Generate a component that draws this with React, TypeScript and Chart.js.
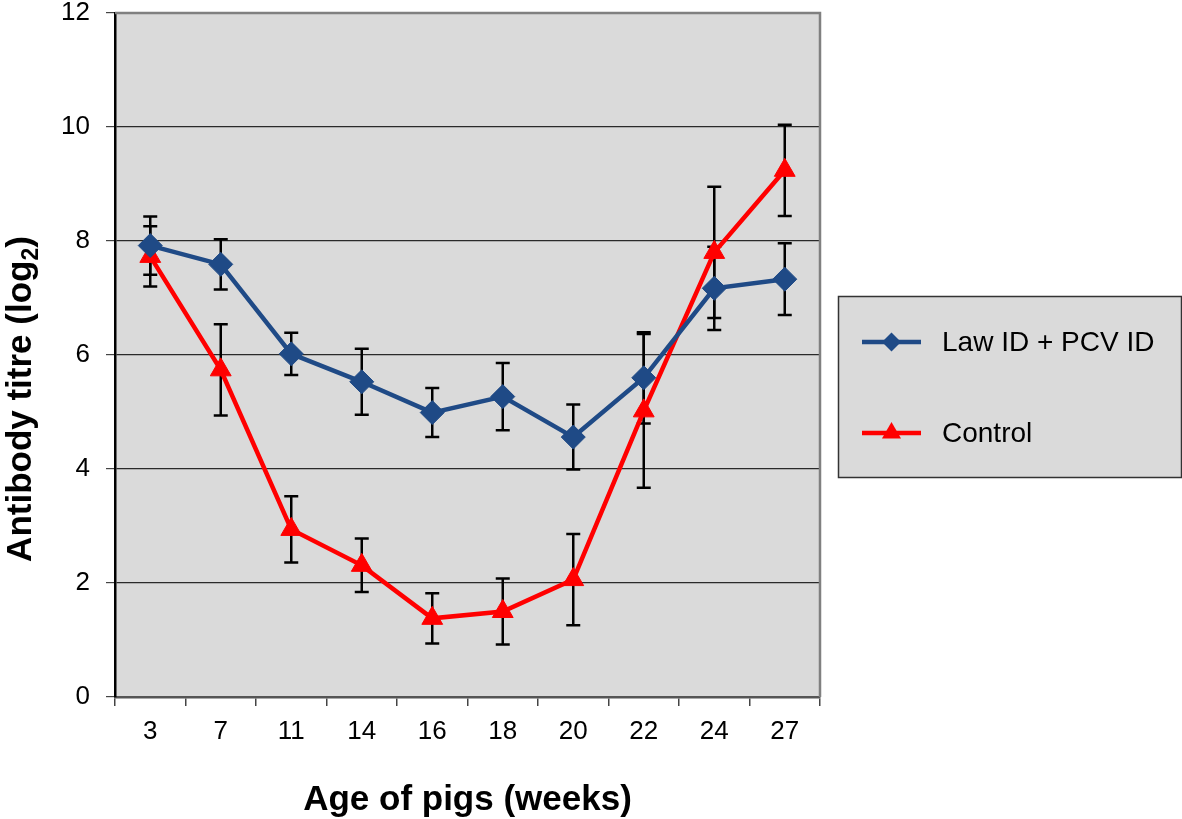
import React, { useEffect, useRef } from 'react';
import { Chart, registerables } from 'chart.js';

Chart.register(...registerables);

const weeks = ['3', '7', '11', '14', '16', '18', '20', '22', '24', '27'];
const lawValues = [7.92, 7.59, 6.02, 5.53, 4.99, 5.27, 4.56, 5.6, 7.17, 7.33];
const lawErrors = [0.51, 0.44, 0.37, 0.58, 0.43, 0.59, 0.57, 0.8, 0.73, 0.63];
const controlValues = [7.73, 5.74, 2.94, 2.31, 1.38, 1.5, 2.06, 5.02, 7.8, 9.24];
const controlErrors = [0.53, 0.8, 0.58, 0.47, 0.44, 0.58, 0.8, 1.35, 1.15, 0.8];
const yTicks = [0, 2, 4, 6, 8, 10, 12];

const lawLabel = 'Law ID + PCV ID';
const controlLabel = 'Control';
const xTitle = 'Age of pigs (weeks)';
const yTitleMain = 'Antibody titre (log';
const yTitleSub = '2';
const yTitleEnd = ')';

const BLUE = '#1F4A86';
const RED = '#FF0000';
const FONT = '"Liberation Sans", Arial, Helvetica, sans-serif';
const PLOT_BG = '#dadada';

const backgroundPlugin = {
  id: 'plotBackground',
  beforeDraw(chart: any) {
    const { ctx, chartArea: ca } = chart;
    ctx.save();
    ctx.fillStyle = PLOT_BG;
    ctx.fillRect(ca.left, ca.top, ca.right - ca.left, ca.bottom - ca.top);
    ctx.restore();
  },
};

const errorBarsPlugin = {
  id: 'errorBars',
  beforeDatasetsDraw(chart: any) {
    const { ctx, chartArea: ca } = chart;
    const xs = chart.scales.x;
    const ys = chart.scales.y;
    ctx.save();
    ctx.strokeStyle = '#808080';
    ctx.lineWidth = 2.5;
    ctx.beginPath();
    ctx.moveTo(ca.left, ca.top);
    ctx.lineTo(ca.right, ca.top);
    ctx.lineTo(ca.right, ca.bottom);
    ctx.stroke();

    ctx.strokeStyle = '#000';
    ctx.lineWidth = 2.5;
    chart.data.datasets.forEach((ds: any) => {
      const errs: number[] = ds.errors || [];
      ds.data.forEach((v: number, j: number) => {
        const e = errs[j] || 0;
        const px = xs.getPixelForValue(j);
        const top = ys.getPixelForValue(v + e);
        const bot = ys.getPixelForValue(v - e);
        ctx.beginPath();
        ctx.moveTo(px, top);
        ctx.lineTo(px, bot);
        ctx.moveTo(px - 7, top);
        ctx.lineTo(px + 7, top);
        ctx.moveTo(px - 7, bot);
        ctx.lineTo(px + 7, bot);
        ctx.stroke();
      });
    });
    ctx.restore();
  },
};

const titlesPlugin = {
  id: 'axisTitles',
  afterDraw(chart: any) {
    const { ctx, chartArea: ca } = chart;
    ctx.save();
    ctx.fillStyle = '#000';
    ctx.font = `bold 35px ${FONT}`;
    ctx.textAlign = 'center';
    ctx.textBaseline = 'alphabetic';
    ctx.fillText(xTitle, (ca.left + ca.right) / 2, ca.bottom + 113);

    ctx.translate(31, ca.top + 386);
    ctx.rotate(-Math.PI / 2);
    ctx.textAlign = 'left';
    const mainFont = `bold 35px ${FONT}`;
    const subFont = `bold 23px ${FONT}`;
    ctx.font = mainFont;
    const w1 = ctx.measureText(yTitleMain).width;
    const w3 = ctx.measureText(yTitleEnd).width;
    ctx.font = subFont;
    const w2 = ctx.measureText(yTitleSub).width;
    const total = w1 + w2 + w3;
    let x = -total / 2;
    ctx.font = mainFont;
    ctx.fillText(yTitleMain, x, 0);
    x += w1;
    ctx.font = subFont;
    ctx.fillText(yTitleSub, x, 7);
    x += w2;
    ctx.font = mainFont;
    ctx.fillText(yTitleEnd, x, 0);
    ctx.restore();
  },
};

const legendPlugin = {
  id: 'customLegend',
  afterDraw(chart: any) {
    const { ctx, chartArea: ca, width } = chart;
    const left = ca.right + 18;
    const top = 296;
    const right = width - 1;
    const bottom = 477;
    ctx.save();
    ctx.fillStyle = PLOT_BG;
    ctx.fillRect(left, top, right - left, bottom - top);
    ctx.strokeStyle = '#333';
    ctx.lineWidth = 1.5;
    ctx.strokeRect(left + 0.5, top + 0.5, right - left, bottom - top);

    chart.data.datasets.forEach((ds: any, i: number) => {
      const cy = 342 + i * 91;
      const x0 = left + 24;
      const x1 = left + 83;
      const mx = (x0 + x1) / 2;
      ctx.strokeStyle = ds.borderColor;
      ctx.lineWidth = 4.5;
      ctx.beginPath();
      ctx.moveTo(x0, cy);
      ctx.lineTo(x1, cy);
      ctx.stroke();
      ctx.fillStyle = ds.backgroundColor;
      ctx.beginPath();
      if (ds.pointStyle === 'rectRot') {
        const r = 9.5;
        ctx.moveTo(mx - r, cy);
        ctx.lineTo(mx, cy - r);
        ctx.lineTo(mx + r, cy);
        ctx.lineTo(mx, cy + r);
      } else {
        const r = 11;
        ctx.moveTo(mx, cy - r);
        ctx.lineTo(mx + 0.866 * r, cy + 0.5 * r);
        ctx.lineTo(mx - 0.866 * r, cy + 0.5 * r);
      }
      ctx.closePath();
      ctx.fill();

      ctx.fillStyle = '#000';
      ctx.font = `28px ${FONT}`;
      ctx.textAlign = 'left';
      ctx.textBaseline = 'middle';
      ctx.fillText(ds.label, left + 104, cy + 1);
    });
    ctx.restore();
  },
};

export default function App() {
  const canvasRef = useRef<HTMLCanvasElement | null>(null);

  useEffect(() => {
    document.body.style.margin = '0';
    const canvas = canvasRef.current;
    if (!canvas) return;
    const chart = new Chart(canvas, {
      type: 'line',
      data: {
        labels: weeks,
        datasets: [
          {
            label: lawLabel,
            data: lawValues,
            errors: lawErrors,
            borderColor: BLUE,
            backgroundColor: BLUE,
            borderWidth: 4.5,
            pointStyle: 'rectRot',
            pointRadius: 12,
            pointBorderWidth: 1,
            pointBackgroundColor: BLUE,
            pointBorderColor: BLUE,
            tension: 0,
          } as any,
          {
            label: controlLabel,
            data: controlValues,
            errors: controlErrors,
            borderColor: RED,
            backgroundColor: RED,
            borderWidth: 4.5,
            pointStyle: 'triangle',
            pointRadius: 12,
            pointBorderWidth: 1,
            pointBackgroundColor: RED,
            pointBorderColor: RED,
            tension: 0,
          } as any,
        ],
      },
      options: {
        animation: false,
        responsive: false,
        maintainAspectRatio: false,
        layout: { padding: { top: 11, right: 362, bottom: 0, left: 0 } },
        plugins: {
          legend: { display: false },
          tooltip: { enabled: false },
        },
        scales: {
          x: {
            type: 'category',
            offset: true,
            grid: {
              offset: true,
              drawOnChartArea: false,
              drawTicks: true,
              tickLength: 9,
              color: '#444',
              lineWidth: 1.5,
            },
            border: { color: '#555', width: 2.5 },
            ticks: {
              color: '#000',
              font: { family: FONT, size: 26 },
              padding: 10,
              maxRotation: 0,
              autoSkip: false,
            },
            afterFit(scale: any) {
              scale.height = 122;
              scale.paddingLeft = 0;
              scale.paddingRight = 0;
            },
          },
          y: {
            min: 0,
            max: 12,
            afterBuildTicks(scale: any) {
              scale.ticks = yTicks.map((v) => ({ value: v }));
            },
            ticks: {
              color: '#000',
              font: { family: FONT, size: 26 },
              padding: 16,
            },
            grid: {
              color: '#2a2a2a',
              lineWidth: 1.2,
              tickLength: 9,
              tickColor: '#444',
            },
            border: { color: '#000', width: 2.5 },
            afterFit(scale: any) {
              scale.width = 115;
              scale.paddingTop = 0;
              scale.paddingBottom = 0;
            },
          },
        },
      } as any,
      plugins: [backgroundPlugin, errorBarsPlugin, titlesPlugin, legendPlugin],
    });
    return () => chart.destroy();
  }, []);

  return (
    <div style={{ width: 1182, height: 819 }}>
      <canvas ref={canvasRef} width={1182} height={819} style={{ display: 'block' }} />
    </div>
  );
}
